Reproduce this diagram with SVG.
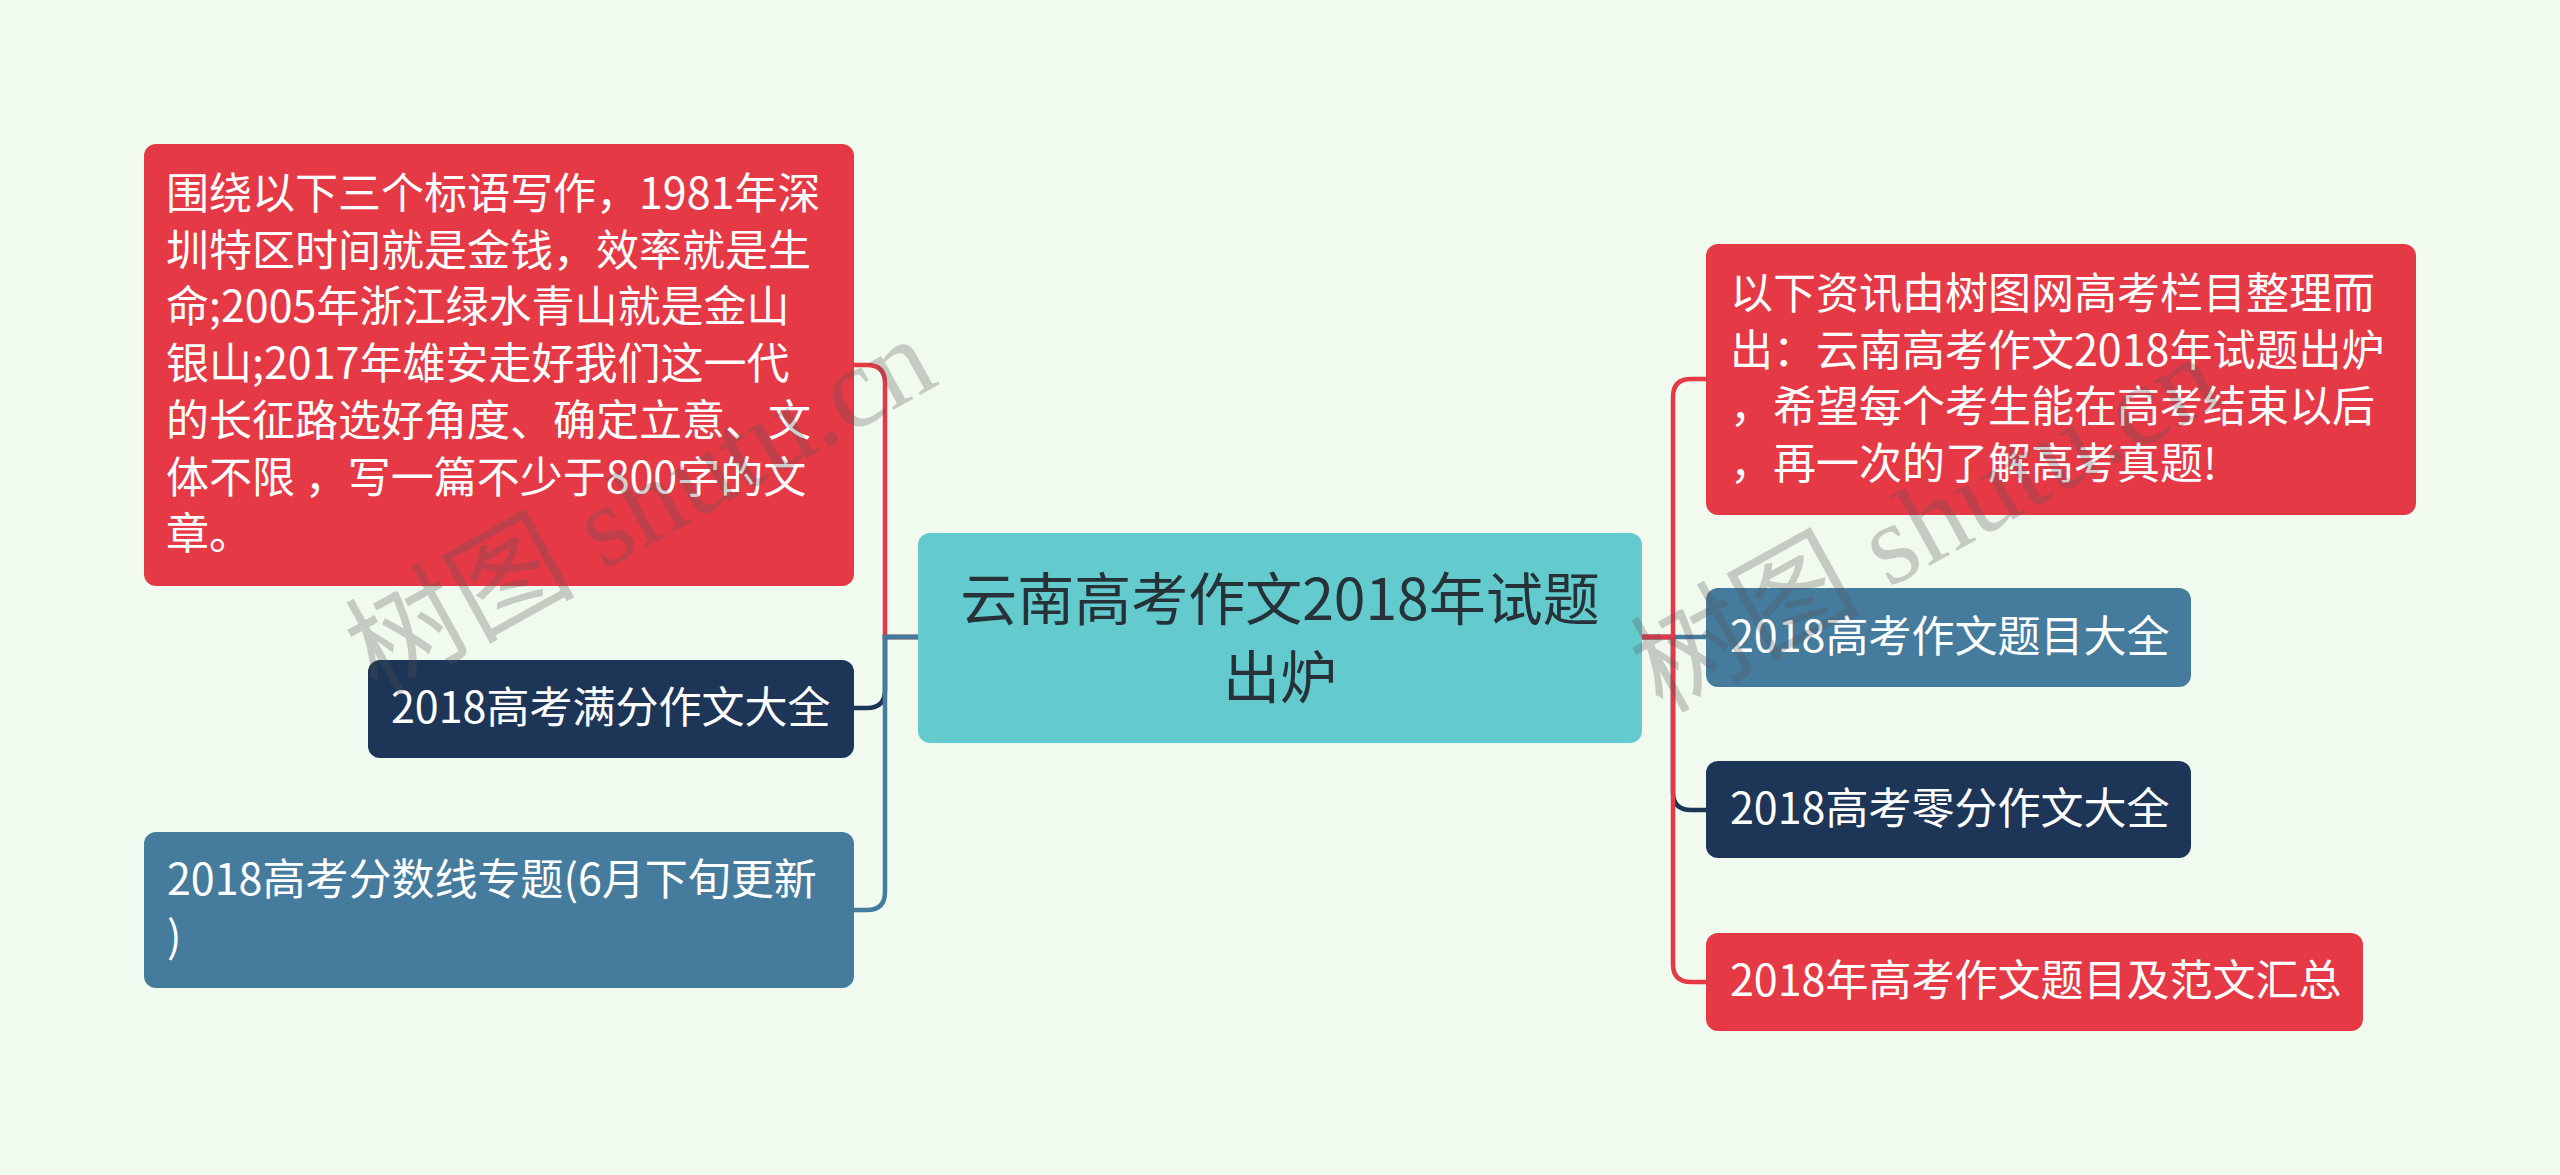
<svg xmlns="http://www.w3.org/2000/svg" width="2560" height="1175" viewBox="0 0 2560 1175">
<style>
.bg{fill:#F1FAEE}
.red{fill:#E63946}
.navy{fill:#1D3557}
.blue{fill:#457B9D}
.teal{fill:#63CACD}
.t{font-family:"Noto Sans CJK SC","Noto Sans",sans-serif;font-size:43px;fill:#FFFFFF}
.ct{font-family:"Noto Sans CJK SC","Noto Sans",sans-serif;font-size:57px;fill:#263238;text-anchor:middle}
.c{fill:none;stroke-width:4.5;stroke-linecap:round}
.wm{font-family:"Liberation Serif","Noto Sans CJK SC",serif;font-size:115px;fill:#555;opacity:0.28}
</style>
<rect class="bg" x="0" y="0" width="2560" height="1175"/>
<g id="connectors">
<path class="c" stroke="#E63946" d="M918 637 H885 V383 Q885 365 867 365 H854"/>
<path class="c" stroke="#1D3557" d="M918 637 H885 V690 Q885 708 867 708 H854"/>
<path class="c" stroke="#457B9D" d="M918 637 H885 V892 Q885 910 867 910 H854"/>
<path class="c" stroke="#457B9D" d="M1642 637 H1706"/>
<path class="c" stroke="#1D3557" d="M1642 637 H1673 V792 Q1673 810 1691 810 H1706"/>
<path class="c" stroke="#E63946" d="M1642 637 H1673 V397 Q1673 379 1691 379 H1706"/>
<path class="c" stroke="#E63946" d="M1642 637 H1673 V964 Q1673 982 1691 982 H1706"/>
</g>
<g id="center">
<rect class="teal" x="918" y="533" width="724" height="210" rx="12"/>
<text class="ct" x="1280" y="620">云南高考作文2018年试题</text>
<text class="ct" x="1280" y="698">出炉</text>
</g>
<g id="left1">
<rect class="red" x="144" y="144" width="710" height="442" rx="12"/>
<text class="t" x="166" y="209">围绕以下三个标语写作，1981年深</text>
<text class="t" x="166" y="265.7">圳特区时间就是金钱，效率就是生</text>
<text class="t" x="166" y="322.4">命;2005年浙江绿水青山就是金山</text>
<text class="t" x="166" y="379.1">银山;2017年雄安走好我们这一代</text>
<text class="t" x="166" y="435.8">的长征路选好角度、确定立意、文</text>
<text class="t" x="166" y="492.5">体不限 ，写一篇不少于800字的文</text>
<text class="t" x="166" y="549.2">章。</text>
</g>
<g id="left2">
<rect class="navy" x="368" y="660" width="486" height="98" rx="12"/>
<text class="t" x="391" y="723">2018高考满分作文大全</text>
</g>
<g id="left3">
<rect class="blue" x="144" y="832" width="710" height="156" rx="12"/>
<text class="t" x="167" y="895">2018高考分数线专题(6月下旬更新</text>
<text class="t" x="167" y="952">)</text>
</g>
<g id="right1">
<rect class="red" x="1706" y="244" width="710" height="271" rx="12"/>
<text class="t" x="1730" y="309">以下资讯由树图网高考栏目整理而</text>
<text class="t" x="1730" y="365.7">出：云南高考作文2018年试题出炉</text>
<text class="t" x="1730" y="422.4">，希望每个考生能在高考结束以后</text>
<text class="t" x="1730" y="479.1">，再一次的了解高考真题!</text>
</g>
<g id="right2">
<rect class="blue" x="1706" y="588" width="485" height="99" rx="12"/>
<text class="t" x="1730" y="652">2018高考作文题目大全</text>
</g>
<g id="right3">
<rect class="navy" x="1706" y="761" width="485" height="97" rx="12"/>
<text class="t" x="1730" y="824">2018高考零分作文大全</text>
</g>
<g id="right4">
<rect class="red" x="1706" y="933" width="657" height="98" rx="12"/>
<text class="t" x="1730" y="996">2018年高考作文题目及范文汇总</text>
</g>
<g id="watermarks">
<text class="wm" transform="translate(377 696) rotate(-29)">树图 shutu.cn</text>
<text class="wm" transform="translate(1662 714) rotate(-29)">树图 shutu.cn</text>
</g>
</svg>
